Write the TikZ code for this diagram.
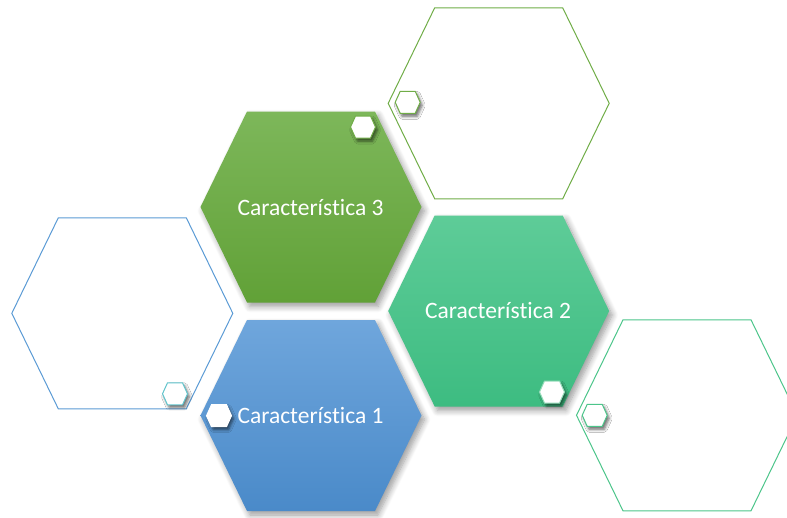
\documentclass[tikz,border=0pt]{standalone}
\usepackage{fontspec}
\setmainfont{Carlito}[Ligatures=NoCommon]
\usetikzlibrary{shadows.blur}
\definecolor{gtop}{RGB}{125,183,90}
\definecolor{gbot}{RGB}{97,161,55}
\definecolor{btop}{RGB}{111,166,220}
\definecolor{bbot}{RGB}{74,138,201}
\definecolor{ttop}{RGB}{94,204,152}
\definecolor{tbot}{RGB}{61,188,129}
\definecolor{gline}{RGB}{112,173,71}
\definecolor{bline}{RGB}{91,155,213}
\definecolor{tline}{RGB}{76,197,138}
\definecolor{cline}{RGB}{96,196,204}
\newcommand\bighexpath{(-110.5,0) -- (-64,-95.5) -- (64,-95.5) -- (110.5,0) -- (64,95.5) -- (-64,95.5) -- cycle}
\newcommand\smallhexpath{(-12.5,0) -- (-7.5,-11) -- (7.5,-11) -- (12.5,0) -- (7.5,11) -- (-7.5,11) -- cycle}
\tikzset{
  x=1pt, y=-1pt,
  filledhex/.style={blur shadow={shadow xshift=3pt, shadow yshift=-4pt, shadow blur steps=8, shadow blur radius=6pt, shadow opacity=40}},
  outlinehex/.style={draw, line width=1pt, fill=white},
  dot/.style={fill=white, line width=1pt, blur shadow={shadow xshift=2pt, shadow yshift=-3pt, shadow blur steps=5, shadow blur radius=3pt, shadow opacity=60}},
  label/.style={text=white, font=\fontsize{23.5}{28}\selectfont, inner sep=0pt}
}
\begin{document}
\begin{tikzpicture}
\useasboundingbox (0,0) rectangle (787,517);
\begin{scope}
\clip (0,0) rectangle (787,517);
% outline hexagons
\path[outlinehex, draw=gline, shift={(498.7,103.3)}] \bighexpath;
\path[outlinehex, draw=bline, shift={(122.3,313.3)}] \bighexpath;
\path[outlinehex, draw=tline, shift={(687,415.3)}] \bighexpath;
% filled hexagons
\path[filledhex, top color=gtop, bottom color=gbot, shift={(311,207)}] \bighexpath;
\path[filledhex, top color=ttop, bottom color=tbot, shift={(498.7,311)}] \bighexpath;
\path[filledhex, top color=btop, bottom color=bbot, shift={(311,415.5)}] \bighexpath;
% small hexagons
\path[dot, draw=gline, shift={(407.7,102.3)}] \smallhexpath;
\path[dot, draw=cline, shift={(175,393.8)}] \smallhexpath;
\path[dot, draw=tline, shift={(594.7,415.3)}] \smallhexpath;
\path[dot, draw=gline, shift={(363,127)}] \smallhexpath;
\path[dot, draw=tline!60, shift={(552,392)}] \smallhexpath;
\path[dot, draw=white, shift={(219,415.7)}] \smallhexpath;
\end{scope}
% labels
\node[label] (c3) at (310.5,207) {Característica 3};
\node[label] (c2) at (498,310) {Característica 2};
\node[label] (c1) at (310.5,415) {Característica 1};
\end{tikzpicture}
\end{document}
